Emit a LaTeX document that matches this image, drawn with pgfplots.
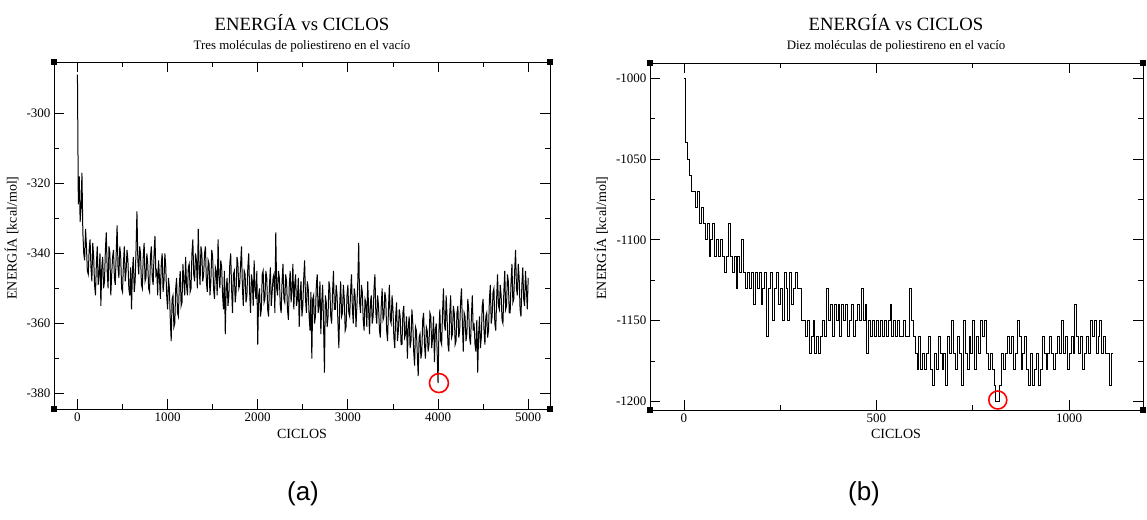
\documentclass[border=0pt]{standalone}
\usepackage{pgfplots}
\pgfplotsset{compat=1.18}
\usepackage{fontspec}
\setmainfont{Liberation Serif}
\newfontfamily\sansf{Liberation Sans}
\pgfplotsset{grace/.style={
  scale only axis, clip=false,
  axis line style={line width=0.9pt, black},
  tick align=inside, major tick length=10pt, minor tick length=5pt,
  every tick/.style={black, line width=0.8pt},
  tick label style={font=\fontsize{13}{13}\selectfont},
  xtick pos=both, ytick pos=both,
  xticklabel pos=lower, yticklabel pos=left,
}}
\tikzset{corner/.style={fill=black, inner sep=0pt, minimum size=6pt}}
\begin{document}
\begin{tikzpicture}
\useasboundingbox (0,0) rectangle (1147pt,519pt);
% ---------- (a) ----------
\begin{axis}[grace, at={(54pt,110pt)}, anchor=south west,
  width=496pt, height=347pt,
  xmin=-260, xmax=5242, ymin=-384.4, ymax=-285.4,
  xtick={0,1000,2000,3000,4000,5000}, xticklabels={0,1000,2000,3000,4000,5000},
  minor x tick num=1,
  ytick={-380,-360,-340,-320,-300}, yticklabels={-380,-360,-340,-320,-300},
  minor y tick num=1]
\addplot[black, line width=1.0pt] table[x expr=\coordindex*10, y index=0, header=false, row sep=\\] {
-289\\ -326\\ -318\\ -331\\ -327\\ -317\\ -334\\ -340\\ -342\\ -333\\ -338\\ -345\\ -346\\ -339\\ -336\\ -344\\ -348\\ -337\\ -341\\ -349\\
-352\\ -343\\ -338\\ -349\\ -346\\ -340\\ -355\\ -344\\ -341\\ -350\\ -348\\ -339\\ -334\\ -345\\ -350\\ -338\\ -340\\ -352\\ -346\\ -341\\
-339\\ -347\\ -349\\ -340\\ -332\\ -344\\ -347\\ -338\\ -341\\ -350\\ -351\\ -343\\ -338\\ -348\\ -345\\ -339\\ -342\\ -350\\ -352\\ -344\\
-356\\ -345\\ -341\\ -351\\ -348\\ -339\\ -328\\ -342\\ -346\\ -338\\ -340\\ -349\\ -350\\ -341\\ -337\\ -348\\ -347\\ -340\\ -343\\ -350\\
-351\\ -341\\ -338\\ -347\\ -349\\ -340\\ -335\\ -346\\ -345\\ -352\\ -342\\ -347\\ -353\\ -343\\ -340\\ -351\\ -348\\ -340\\ -344\\ -352\\
-356\\ -347\\ -350\\ -359\\ -365\\ -353\\ -352\\ -361\\ -360\\ -350\\ -347\\ -357\\ -358\\ -349\\ -345\\ -355\\ -354\\ -343\\ -348\\ -352\\
-341\\ -349\\ -352\\ -344\\ -343\\ -351\\ -350\\ -340\\ -336\\ -346\\ -348\\ -340\\ -342\\ -350\\ -333\\ -344\\ -349\\ -338\\ -340\\ -348\\
-346\\ -340\\ -338\\ -348\\ -351\\ -342\\ -343\\ -352\\ -348\\ -339\\ -341\\ -350\\ -353\\ -344\\ -345\\ -352\\ -336\\ -347\\ -350\\ -342\\
-344\\ -352\\ -356\\ -345\\ -363\\ -350\\ -347\\ -355\\ -352\\ -343\\ -340\\ -350\\ -357\\ -346\\ -345\\ -354\\ -351\\ -341\\ -343\\ -350\\
-349\\ -343\\ -338\\ -350\\ -355\\ -345\\ -346\\ -354\\ -352\\ -344\\ -340\\ -351\\ -357\\ -346\\ -348\\ -355\\ -342\\ -350\\ -353\\ -345\\
-366\\ -352\\ -350\\ -358\\ -356\\ -346\\ -345\\ -354\\ -353\\ -345\\ -347\\ -356\\ -358\\ -349\\ -344\\ -355\\ -351\\ -347\\ -346\\ -357\\
-334\\ -350\\ -352\\ -345\\ -347\\ -355\\ -357\\ -348\\ -343\\ -353\\ -354\\ -346\\ -348\\ -356\\ -359\\ -349\\ -345\\ -354\\ -350\\ -343\\
-356\\ -349\\ -346\\ -355\\ -353\\ -347\\ -361\\ -352\\ -348\\ -358\\ -355\\ -347\\ -342\\ -353\\ -357\\ -348\\ -350\\ -358\\ -362\\ -351\\
-370\\ -353\\ -352\\ -360\\ -358\\ -349\\ -346\\ -357\\ -355\\ -348\\ -363\\ -354\\ -349\\ -360\\ -374\\ -352\\ -354\\ -361\\ -358\\ -348\\
-350\\ -358\\ -360\\ -351\\ -345\\ -356\\ -356\\ -349\\ -352\\ -360\\ -367\\ -354\\ -348\\ -358\\ -357\\ -349\\ -353\\ -362\\ -361\\ -352\\
-349\\ -357\\ -358\\ -351\\ -346\\ -356\\ -360\\ -350\\ -352\\ -361\\ -355\\ -348\\ -337\\ -354\\ -357\\ -349\\ -351\\ -359\\ -362\\ -353\\
-354\\ -361\\ -348\\ -356\\ -363\\ -354\\ -352\\ -360\\ -358\\ -350\\ -346\\ -357\\ -360\\ -352\\ -355\\ -362\\ -364\\ -355\\ -350\\ -359\\
-358\\ -351\\ -353\\ -362\\ -365\\ -356\\ -349\\ -359\\ -360\\ -352\\ -356\\ -364\\ -367\\ -358\\ -354\\ -365\\ -362\\ -356\\ -358\\ -366\\
-366\\ -357\\ -355\\ -364\\ -363\\ -358\\ -370\\ -361\\ -358\\ -367\\ -365\\ -356\\ -360\\ -368\\ -372\\ -361\\ -362\\ -369\\ -375\\ -364\\
-363\\ -370\\ -368\\ -359\\ -357\\ -366\\ -370\\ -361\\ -362\\ -368\\ -366\\ -357\\ -358\\ -367\\ -364\\ -358\\ -371\\ -362\\ -360\\ -368\\
-377\\ -362\\ -356\\ -365\\ -366\\ -357\\ -350\\ -360\\ -362\\ -352\\ -358\\ -366\\ -368\\ -357\\ -352\\ -364\\ -363\\ -355\\ -357\\ -366\\
-365\\ -357\\ -355\\ -364\\ -362\\ -354\\ -350\\ -360\\ -368\\ -357\\ -358\\ -365\\ -363\\ -353\\ -356\\ -364\\ -366\\ -358\\ -352\\ -362\\
-360\\ -366\\ -368\\ -359\\ -374\\ -363\\ -358\\ -367\\ -364\\ -355\\ -353\\ -362\\ -366\\ -358\\ -357\\ -364\\ -362\\ -353\\ -349\\ -360\\
-358\\ -351\\ -350\\ -360\\ -362\\ -353\\ -346\\ -355\\ -356\\ -349\\ -352\\ -359\\ -360\\ -351\\ -345\\ -356\\ -355\\ -346\\ -348\\ -357\\
-357\\ -348\\ -343\\ -354\\ -353\\ -345\\ -339\\ -350\\ -352\\ -343\\ -347\\ -356\\ -358\\ -349\\ -344\\ -353\\ -355\\ -345\\ -350\\ -356\\
-347\\
};
\addplot[red, only marks, mark=o, mark size=9.5pt, mark options={line width=1.6pt}] coordinates {(4010,-377)};
\node[corner] at (rel axis cs:0,0) {};
\node[corner] at (rel axis cs:1,0) {};
\node[corner] at (rel axis cs:0,1) {};
\node[corner] at (rel axis cs:1,1) {};
\end{axis}
% ---------- (b) ----------
\begin{axis}[grace, at={(650pt,108.5pt)}, anchor=south west,
  width=493pt, height=347pt,
  xmin=-88, xmax=1192, ymin=-1205.5, ymax=-991,
  xtick={0,500,1000}, xticklabels={0,500,1000},
  minor x tick num=1,
  ytick={-1200,-1150,-1100,-1050,-1000}, yticklabels={-1200,-1150,-1100,-1050,-1000},
  minor y tick num=1]
\addplot[black, const plot, line width=0.8pt] table[x expr=\coordindex*5, y index=0, header=false, row sep=\\] {
-1000\\ -1040\\ -1050\\ -1060\\ -1070\\ -1070\\ -1080\\ -1070\\ -1090\\ -1080\\ -1090\\ -1100\\ -1090\\ -1110\\ -1100\\ -1090\\ -1110\\ -1100\\ -1110\\ -1100\\
-1110\\ -1120\\ -1110\\ -1090\\ -1110\\ -1120\\ -1110\\ -1130\\ -1110\\ -1120\\ -1100\\ -1120\\ -1130\\ -1120\\ -1130\\ -1120\\ -1140\\ -1120\\ -1130\\ -1120\\
-1140\\ -1130\\ -1120\\ -1160\\ -1130\\ -1120\\ -1150\\ -1130\\ -1120\\ -1140\\ -1130\\ -1150\\ -1120\\ -1130\\ -1150\\ -1120\\ -1140\\ -1130\\ -1120\\ -1130\\
-1130\\ -1150\\ -1150\\ -1160\\ -1150\\ -1170\\ -1160\\ -1150\\ -1170\\ -1160\\ -1170\\ -1160\\ -1150\\ -1160\\ -1130\\ -1150\\ -1140\\ -1160\\ -1140\\ -1150\\
-1140\\ -1160\\ -1140\\ -1150\\ -1140\\ -1160\\ -1150\\ -1140\\ -1160\\ -1150\\ -1140\\ -1150\\ -1130\\ -1150\\ -1140\\ -1170\\ -1150\\ -1160\\ -1150\\ -1160\\
-1150\\ -1160\\ -1150\\ -1160\\ -1150\\ -1160\\ -1150\\ -1140\\ -1160\\ -1150\\ -1160\\ -1150\\ -1160\\ -1160\\ -1150\\ -1160\\ -1160\\ -1130\\ -1150\\ -1160\\
-1170\\ -1180\\ -1160\\ -1180\\ -1170\\ -1180\\ -1170\\ -1160\\ -1180\\ -1190\\ -1170\\ -1180\\ -1160\\ -1170\\ -1180\\ -1170\\ -1190\\ -1160\\ -1170\\ -1150\\
-1170\\ -1180\\ -1160\\ -1170\\ -1190\\ -1150\\ -1170\\ -1180\\ -1160\\ -1170\\ -1150\\ -1180\\ -1160\\ -1170\\ -1150\\ -1160\\ -1150\\ -1170\\ -1180\\ -1170\\
-1180\\ -1190\\ -1200\\ -1200\\ -1190\\ -1170\\ -1180\\ -1170\\ -1160\\ -1170\\ -1160\\ -1180\\ -1170\\ -1150\\ -1160\\ -1180\\ -1170\\ -1160\\ -1180\\ -1190\\
-1170\\ -1190\\ -1180\\ -1170\\ -1190\\ -1180\\ -1160\\ -1170\\ -1180\\ -1170\\ -1160\\ -1170\\ -1180\\ -1170\\ -1160\\ -1170\\ -1150\\ -1170\\ -1160\\ -1180\\
-1170\\ -1160\\ -1170\\ -1140\\ -1160\\ -1170\\ -1160\\ -1180\\ -1170\\ -1160\\ -1170\\ -1150\\ -1160\\ -1150\\ -1170\\ -1160\\ -1150\\ -1170\\ -1160\\ -1170\\
-1170\\ -1190\\ -1170\\ -1170\\
};
\addplot[red, only marks, mark=o, mark size=9pt, mark options={line width=1.6pt}] coordinates {(815,-1199)};
\node[corner] at (rel axis cs:0,0) {};
\node[corner] at (rel axis cs:1,0) {};
\node[corner] at (rel axis cs:0,1) {};
\node[corner] at (rel axis cs:1,1) {};
\end{axis}
% ---------- texts ----------
\node[anchor=base, font=\fontsize{18.7}{18.7}\selectfont] at (302pt,488pt) {ENERGÍA vs CICLOS};
\node[anchor=base, font=\fontsize{12.9}{12.9}\selectfont] at (302pt,469pt) {Tres moléculas de poliestireno en el vacío};
\node[anchor=base, font=\fontsize{18.7}{18.7}\selectfont] at (896pt,488pt) {ENERGÍA vs CICLOS};
\node[anchor=base, font=\fontsize{12.9}{12.9}\selectfont] at (896pt,469pt) {Diez moléculas de poliestireno en el vacío};
\node[font=\fontsize{14}{14}\selectfont] at (302pt,85.5pt) {CICLOS};
\node[font=\fontsize{14}{14}\selectfont] at (896pt,85.5pt) {CICLOS};
\node[rotate=90, font=\fontsize{14}{14}\selectfont] at (11.5pt,281pt) {ENERGÍA [kcal/mol]};
\node[rotate=90, font=\fontsize{14}{14}\selectfont] at (601pt,281pt) {ENERGÍA [kcal/mol]};
\node[font=\sansf\fontsize{26}{26}\selectfont] at (303pt,25pt) {(a)};
\node[font=\sansf\fontsize{26}{26}\selectfont] at (864pt,25pt) {(b)};
\end{tikzpicture}
\end{document}
